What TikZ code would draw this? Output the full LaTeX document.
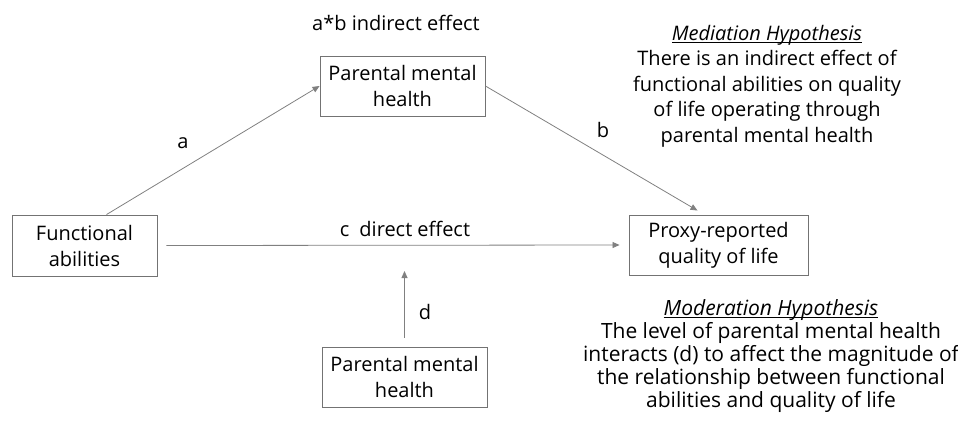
\documentclass[tikz,border=0pt]{standalone}
\usepackage{fontspec}
\setmainfont{Open Sans}
\usetikzlibrary{arrows.meta,calc}
\newcommand{\hyptitle}[1]{\setbox0\hbox{\itshape #1}\rlap{\rule[-2.5pt]{\wd0}{0.9pt}}\box0}
\tikzset{
  box/.style={draw=black!55, line width=0.9pt, fill=white, align=center, inner sep=0pt, font=\fontsize{20}{26}\selectfont},
  conn/.style={draw=black!50, line width=0.8pt, -{Triangle[length=7pt,width=6pt]}},
  lbl/.style={font=\fontsize{20}{24}\selectfont, inner sep=0pt},
  hyp/.style={align=center, inner sep=0pt, font=\fontsize{20}{25.5}\selectfont}
}
\begin{document}
\begin{tikzpicture}[x=1pt,y=-1pt]
\useasboundingbox (0,0) rectangle (958,421);
\node[box, minimum width=145pt, minimum height=61pt] (fa) at (84.5,245.5) {Functional\\abilities};
\node[box, minimum width=165pt, minimum height=60pt] (pm) at (402.5,86) {Parental mental\\health};
\node[box, minimum width=179pt, minimum height=60pt] (pq) at (718.5,245) {Proxy-reported\\quality of life};
\node[box, minimum width=165pt, minimum height=60pt] (pb) at (404.5,377) {Parental mental\\health};
\coordinate (dtip) at (404.5,271);
\draw[conn] ([xshift=22pt]fa.north) -- (pm.west);
\draw[conn] (pm.east) -- ([xshift=-21pt,yshift=4pt]pq.north);
\draw[conn] ([xshift=9pt]fa.east) -- ([xshift=-9pt]pq.west);
\draw[conn] ([yshift=9pt]pb.north) -- (dtip);
\node[lbl] (la) at (183,143) {a};
\node[lbl] (lb) at (603,130) {b};
\node[lbl] (lc) at (405,229) {c\enspace direct effect};
\node[lbl] (ld) at (425,312) {d};
\node[lbl] (lab) at (396,23) {a*b indirect effect};
\node[hyp, anchor=north] (med) at (767,25) {\hyptitle{Mediation Hypothesis}\\There is an indirect effect of\\functional abilities on quality\\of life operating through\\parental mental health};
\node[hyp, anchor=north, font=\fontsize{21}{23}\selectfont] (mod) at (771,299) {\hyptitle{Moderation Hypothesis}\\The level of parental mental health\\interacts (d) to affect the magnitude of\\the relationship between functional\\abilities and quality of life};
\end{tikzpicture}
\end{document}
